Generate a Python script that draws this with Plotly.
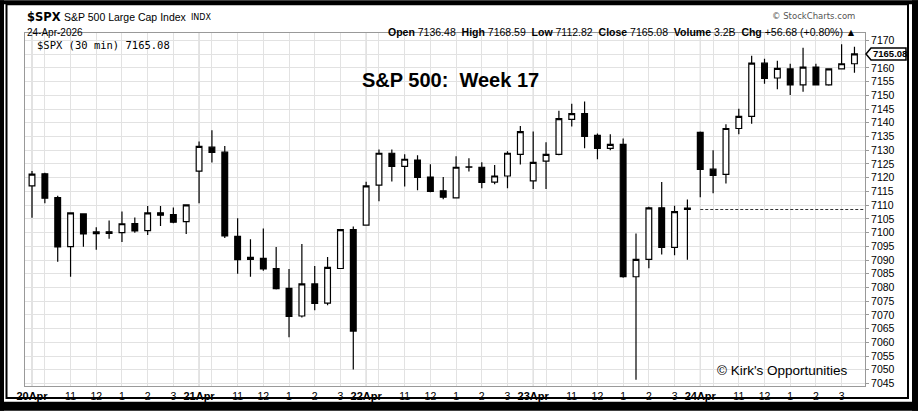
# S&P 500 week 17 -- 30 min candles, StockCharts style
import plotly.graph_objects as go

days = ["20Apr", "21Apr", "22Apr", "23Apr", "24Apr"]
hour_labels = ["11", "12", "1", "2", "3"]

opens = [7117.0, 7121.4, 7112.7, 7094.9, 7106.8, 7099.6, 7100.3, 7100.0, 7103.3, 7100.7, 7107.2, 7106.5, 7104.0,
         7122.4, 7131.1, 7129.3, 7098.6, 7090.2, 7090.6, 7086.9, 7079.7, 7069.6, 7081.3, 7074.3, 7086.9, 7101.1,
         7102.7, 7117.3, 7128.9, 7124.1, 7126.4, 7120.2, 7115.2, 7112.6, 7123.9, 7123.8, 7118.4, 7120.6, 7128.5,
         7118.8, 7126.0, 7128.5, 7141.2, 7143.3, 7135.4, 7130.7, 7132.1, 7083.9, 7090.2, 7109.0, 7094.6, 7108.9,
         7136.48, 7123.1, 7121.2, 7137.9, 7142.3, 7161.7, 7156.3, 7159.6, 7153.8, 7160.3, 7153.8, 7159.6, 7161.5]
highs = [7122.4, 7121.8, 7113.4, 7107.3, 7107.0, 7101.9, 7104.4, 7107.7, 7105.5, 7109.7, 7109.7, 7109.1, 7110.2,
         7133.2, 7137.3, 7131.5, 7105.2, 7097.6, 7101.5, 7094.7, 7086.7, 7095.8, 7087.8, 7091.1, 7101.2, 7102.2,
         7118.5, 7130.3, 7130.3, 7128.5, 7128.2, 7124.9, 7120.2, 7127.8, 7127.1, 7125.6, 7124.6, 7129.6, 7138.8,
         7136.8, 7132.9, 7144.4, 7146.9, 7147.7, 7136.1, 7135.8, 7134.3, 7099.7, 7109.4, 7118.4, 7109.8, 7112.0,
         7136.8, 7130.0, 7139.5, 7145.1, 7164.4, 7163.3, 7162.6, 7161.5, 7167.3, 7161.5, 7159.9, 7168.59, 7167.7]
lows = [7105.4, 7110.7, 7089.4, 7083.9, 7094.8, 7093.7, 7097.7, 7096.6, 7099.9, 7099.1, 7102.4, 7103.4, 7099.5,
        7110.7, 7125.5, 7098.0, 7085.0, 7083.9, 7086.1, 7079.3, 7061.9, 7069.1, 7071.7, 7073.5, 7086.8, 7050.1,
        7102.5, 7111.4, 7118.6, 7116.8, 7115.4, 7114.7, 7112.1, 7112.5, 7122.2, 7116.1, 7117.6, 7116.1, 7124.8,
        7115.9, 7115.9, 7128.2, 7138.6, 7130.7, 7126.7, 7130.0, 7083.5, 7046.4, 7087.0, 7092.0, 7091.7, 7090.1,
        7112.82, 7114.3, 7117.9, 7135.8, 7139.6, 7154.2, 7152.2, 7150.1, 7151.3, 7153.6, 7153.5, 7159.4, 7158.2]
closes = [7121.3, 7112.5, 7094.8, 7107.2, 7099.5, 7100.3, 7099.7, 7103.2, 7100.6, 7107.2, 7106.3, 7103.8, 7110.1,
          7131.4, 7129.2, 7098.8, 7090.1, 7091.0, 7086.8, 7079.6, 7069.5, 7081.3, 7074.2, 7087.3, 7101.1, 7064.1,
          7117.0, 7128.9, 7124.1, 7126.7, 7120.1, 7115.0, 7112.9, 7123.8, 7123.8, 7118.3, 7120.6, 7128.9, 7136.8,
          7125.6, 7128.5, 7141.5, 7143.3, 7135.0, 7130.7, 7132.1, 7083.9, 7090.2, 7109.0, 7094.6, 7107.6, 7108.4,
          7123.0, 7120.8, 7137.9, 7142.3, 7161.7, 7156.2, 7159.8, 7153.8, 7160.3, 7153.8, 7159.6, 7161.5, 7165.08]

y_ticks = list(range(7045, 7171, 5))

# header figures for the last session
day_open, day_high, day_low, day_close = 7136.48, 7168.59, 7112.82, 7165.08
volume = "3.2B"

BARS = 13
W, H = 918, 414
ML, MR, MT, MB = 25, 53, 33, 25
FONT = "Liberation Sans, Arial, sans-serif"
VFONT = "DejaVu Sans, Verdana, sans-serif"


def px(x):
    return (x - ML) / (W - ML - MR)


def py(y):
    return (H - MB - y) / (H - MT - MB)


n = len(closes)
xs = list(range(n))
prev_close = closes[4 * BARS - 1]
chg = day_close - prev_close

tickvals, ticktext = [], []
for d, lab in enumerate(days):
    base = d * BARS
    tickvals += [base, base + 1, base + 3, base + 5, base + 7, base + 9, base + 11]
    ticktext += [f"<b><span style='font-size:11px'>{lab}</span></b>", ""] + hour_labels

# the price tag hides the label right under it
y_text = ["" if abs(v - day_close) < 2.5 else str(v) for v in y_ticks]

fig = go.Figure()
fig.add_trace(
    go.Candlestick(
        x=xs, open=opens, high=highs, low=lows, close=closes,
        increasing=dict(fillcolor="white", line=dict(color="black", width=1.2)),
        decreasing=dict(fillcolor="black", line=dict(color="black", width=1.2)),
        whiskerwidth=0, hoverinfo="skip", showlegend=False,
    )
)

shapes = []
# darker day separators
for d in range(len(days)):
    shapes.append(dict(type="line", xref="x", yref="paper", x0=d * BARS, x1=d * BARS, y0=0, y1=1,
                       line=dict(color="#c4c4c4", width=1), layer="below"))
# previous close reference for the current day
shapes.append(dict(type="line", xref="x", yref="y", x0=4 * BARS, x1=64.82, y0=prev_close, y1=prev_close,
                   line=dict(color="#333", width=1, dash="3px,2px")))
# price tag on the right axis
shapes.append(dict(type="path", xref="paper", yref="y", xsizemode="pixel", ysizemode="pixel",
                   xanchor=1, yanchor=day_close,
                   path="M 1 0 L 6 6 L 41 6 L 41 -6 L 6 -6 Z",
                   fillcolor="white", line=dict(color="black", width=1.5)))
# outer frame
for x0, y0, x1, y1 in [(0, 0, W, 4), (0, 0, 4, H), (912, 0, W, H), (0, 405, W, H)]:
    shapes.append(dict(type="rect", xref="paper", yref="paper", x0=px(x0), x1=px(x1), y0=py(y0), y1=py(y1),
                       fillcolor="black", line=dict(width=0)))
shapes.append(dict(type="rect", xref="paper", yref="paper", x0=px(6.5), x1=px(908), y0=py(4), y1=py(401),
                   line=dict(color="black", width=2)))
fig.update_layout(shapes=shapes)

ann = [
    dict(x=px(25), y=py(17), text="<b>$SPX</b>", font=dict(family=VFONT, size=11.5), xanchor="left"),
    dict(x=px(62), y=py(17), text="S&P 500 Large Cap Index", font=dict(family=FONT, size=10.5), xanchor="left"),
    dict(x=px(189), y=py(17), text="INDX", font=dict(family=VFONT, size=8), xanchor="left"),
    dict(x=px(25), y=py(32), text="24-Apr-2026", font=dict(family=FONT, size=10), xanchor="left"),
    dict(x=px(857), y=py(16), text="© StockCharts.com", font=dict(family=VFONT, size=8.5, color="#555"),
         xanchor="right"),
    dict(x=px(858), y=py(32),
         text=(f"<b>Open</b> {day_open:.2f}  <b>High</b> {day_high:.2f}  <b>Low</b> {day_low:.2f}  "
               f"<b>Close</b> {day_close:.2f}  <b>Volume</b> {volume}  "
               f"<b>Chg</b> {chg:+.2f} ({chg / prev_close * 100:+.2f}%) ▲"),
         font=dict(family=FONT, size=10.5), xanchor="right"),
    dict(x=px(35), y=py(45), text=f"$SPX (30 min) {day_close:.2f}",
         font=dict(family="DejaVu Sans Mono, monospace", size=10.5), xanchor="left"),
    dict(x=px(450), y=py(80), text="<b>S&P 500:  Week 17</b>", font=dict(family=FONT, size=20)),
    dict(x=px(850), y=py(373), text="© Kirk's Opportunities", font=dict(family=FONT, size=13.5),
         xanchor="right"),
    dict(x=1, xshift=6, y=day_close, xref="paper", yref="y", text=f"<b>{day_close:.2f}</b>",
         font=dict(family=FONT, size=9.5), xanchor="left"),
]
for a in ann:
    a.setdefault("xref", "paper")
    a.setdefault("yref", "paper")
    a["showarrow"] = False
    a.setdefault("yanchor", "middle")
fig.update_layout(annotations=ann)

fig.update_layout(
    width=W, height=H,
    margin=dict(l=ML, r=MR, t=MT, b=MB),
    paper_bgcolor="white", plot_bgcolor="white",
    font=dict(family=FONT, size=10.5, color="black"),
    boxgap=0.36,
    showlegend=False,
    xaxis=dict(
        type="linear", range=[-0.545, 64.82], tickvals=tickvals, ticktext=ticktext,
        showgrid=True, gridcolor="#e2e2e2", gridwidth=1, zeroline=False,
        showline=True, linecolor="#999", mirror=True, ticks="", rangeslider=dict(visible=False),
        tickfont=dict(family=FONT, size=10.5),
    ),
    yaxis=dict(
        range=[7044.1, 7172.7], side="right", tickvals=y_ticks, ticktext=y_text,
        showgrid=True, gridcolor="#e2e2e2", zeroline=False,
        showline=True, linecolor="#999", mirror=True, ticks="outside", ticklen=3, tickcolor="#999",
        tickfont=dict(family=FONT, size=10.5),
    ),
)

# the page body has a default 8px margin; drop it so the figure sits at the window corner
fig.write_html("out.html", config={"displayModeBar": False},
               post_script="document.body.style.margin='0';")
